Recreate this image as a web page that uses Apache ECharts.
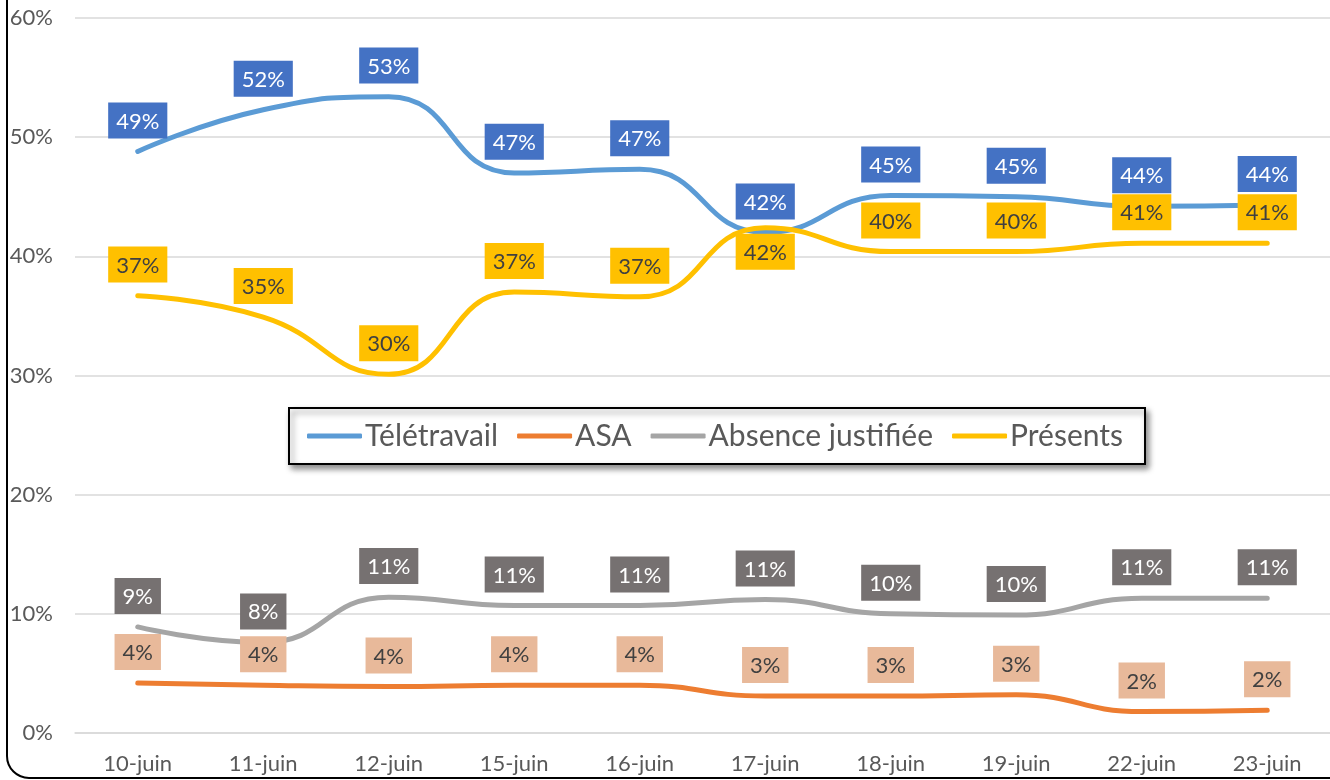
<!DOCTYPE html>
<html>
<head>
<meta charset="utf-8">
<script src="https://cdn.jsdelivr.net/npm/echarts@6/dist/echarts.min.js"></script>
<style>
  html, body { margin: 0; padding: 0; background: #fff; }
  #chart { width: 1330px; height: 780px; }
</style>
</head>
<body>
<div id="chart"></div>
<script>
const days = ['10-juin', '11-juin', '12-juin', '15-juin', '16-juin', '17-juin', '18-juin', '19-juin', '22-juin', '23-juin']
const teletravail = [48.8, 52.3, 53.4, 47.0, 47.3, 42.0, 45.1, 45.0, 44.2, 44.3]
const asa = [4.2, 4.0, 3.9, 4.0, 4.0, 3.1, 3.1, 3.2, 1.8, 1.9]
const absence = [8.9, 7.6, 11.4, 10.7, 10.7, 11.2, 10.0, 9.9, 11.3, 11.3]
const presents = [36.7, 34.9, 30.1, 37.0, 36.6, 42.4, 40.4, 40.4, 41.1, 41.1]
const yTicks = [0, 10, 20, 30, 40, 50, 60]

const font = 'Lato, "Open Sans", sans-serif'
const chart = echarts.init(document.getElementById('chart'))

function boxLabel(bg, fg) {
  return {
    show: true,
    position: 'top',
    distance: 13,
    backgroundColor: bg,
    color: fg,
    fontFamily: font,
    fontSize: 22,
    padding: [8, 8, 6, 8],
    formatter: p => Math.round(p.value) + '%',
  }
}

function lineSeries(name, values, color, label) {
  return {
    name,
    type: 'line',
    smooth: 0.5,
    symbol: 'circle',
    symbolSize: 0.1,
    showSymbol: true,
    data: values,
    lineStyle: { color, width: 5, cap: 'round', join: 'round' },
    itemStyle: { color },
    label,
  }
}

chart.setOption({
  animation: false,
  textStyle: { fontFamily: font },
  graphic: [{
    type: 'rect',
    shape: { x: 7, y: -60, width: 1400, height: 838, r: 22 },
    style: { fill: 'none', stroke: '#000', lineWidth: 2 },
    silent: true,
  }],
  grid: { left: 75, right: 0, top: 18, bottom: 47 },
  legend: {
    left: 289,
    top: 408,
    data: ['Télétravail', 'ASA', 'Absence justifiée', 'Présents'],
    icon: 'roundRect',
    itemWidth: 55,
    itemHeight: 5,
    itemGap: 19,
    padding: [13, 22, 13, 18],
    backgroundColor: '#fff',
    borderColor: '#000',
    borderWidth: 2,
    shadowColor: 'rgba(0,0,0,0.45)',
    shadowBlur: 6,
    shadowOffsetX: 3,
    shadowOffsetY: 4,
    textStyle: { color: '#595959', fontSize: 30, fontFamily: font, padding: [0, 0, 0, -2] },
  },
  xAxis: {
    type: 'category',
    data: days,
    axisLine: { lineStyle: { color: '#d9d9d9', width: 1.5 } },
    axisTick: { show: false },
    axisLabel: { color: '#595959', fontSize: 22, margin: 20, fontFamily: font },
  },
  yAxis: {
    type: 'value',
    min: yTicks[0],
    max: yTicks[yTicks.length - 1],
    interval: 10,
    axisLine: { show: false },
    axisTick: { show: false },
    splitLine: { lineStyle: { color: '#d9d9d9', width: 1.5 } },
    axisLabel: { color: '#595959', fontSize: 22, margin: 22, fontFamily: font, formatter: '{value}%' },
  },
  series: [
    lineSeries('Télétravail', teletravail, '#5b9bd5', boxLabel('#4472c4', '#fff')),
    lineSeries('ASA', asa, '#ed7d31', boxLabel('#e8b99a', '#404040')),
    lineSeries('Absence justifiée', absence, '#a5a5a5', boxLabel('#767171', '#fff')),
    lineSeries('Présents', presents.map((v, i) => i === 5
      ? { value: v, label: { position: 'bottom', distance: 6 } }
      : v), '#ffc000', boxLabel('#ffc000', '#404040')),
  ],
})
</script>
</body>
</html>
